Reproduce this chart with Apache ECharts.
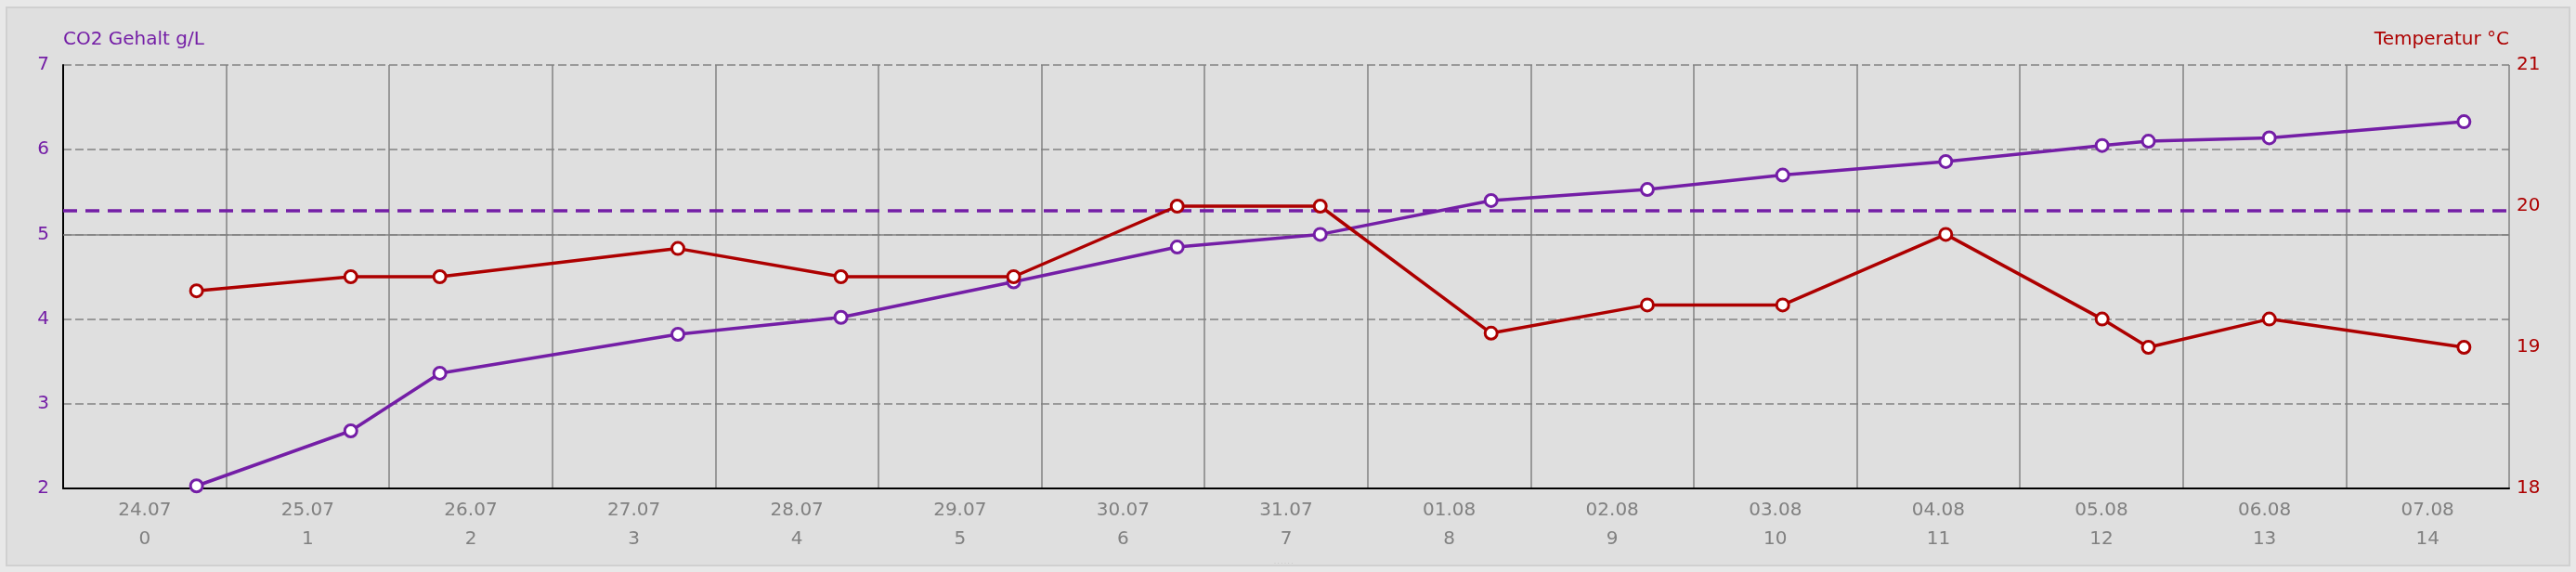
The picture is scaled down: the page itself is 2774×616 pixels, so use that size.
<!DOCTYPE html>
<html>
<head>
<meta charset="utf-8">
<script src="https://cdn.jsdelivr.net/npm/echarts@6/dist/echarts.min.js"></script>
<style>
  html, body { margin: 0; padding: 0; background: #e8e8e8; }
  #panel { position: absolute; left: 6px; top: 7px; width: 2758px; height: 599px; background: #dfdfdf; border: 2px solid #d0d0d0; }
  #chart { position: absolute; left: 0; top: 0; width: 2774px; height: 616px; }
</style>
</head>
<body>
<div id="panel"></div>
<div id="chart"></div>
<script>
// Category labels (days)
const dates = ['24.07','25.07','26.07','27.07','28.07','29.07','30.07','31.07','01.08','02.08','03.08','04.08','05.08','06.08','07.08'];
const dayIndex = [0,1,2,3,4,5,6,7,8,9,10,11,12,13,14];
// Measurement times (in days since 24.07 00:00)
const times = [0.818, 1.764, 2.310, 3.770, 4.770, 5.829, 6.832, 7.709, 8.757, 9.715, 10.545, 11.545, 12.504, 12.788, 13.529, 14.723];
// CO2 content g/L
const co2 = [2.03, 2.68, 3.36, 3.82, 4.02, 4.44, 4.85, 5.00, 5.40, 5.53, 5.70, 5.86, 6.05, 6.10, 6.14, 6.33];
// Temperature °C
const temp = [19.4, 19.5, 19.5, 19.7, 19.5, 19.5, 20.0, 20.0, 19.1, 19.3, 19.3, 19.8, 19.2, 19.0, 19.2, 19.0];
// Reference lines
const co2Limit = 5.28;
const solidRef = 5;

const PURPLE = '#741ea6';
const RED = '#ad0000';
const GRID = '#828282';
const FONT = 'DejaVu Sans';

const catLabels = dates.map((d, i) => d + '\n' + dayIndex[i]);

const chart = echarts.init(document.getElementById('chart'), null, { renderer: 'canvas' });
chart.setOption({
  backgroundColor: 'transparent',
  animation: false,
  grid: { left: 68, right: 72, top: 70, bottom: 90, containLabel: false },
  xAxis: [
    {
      type: 'category',
      data: catLabels,
      boundaryGap: true,
      axisLine: { show: true, lineStyle: { color: '#000', width: 2 } },
      axisTick: { show: false },
      axisLabel: { color: '#808080', fontSize: 20, fontFamily: FONT, lineHeight: 31, margin: 8, interval: 0 },
      splitLine: { show: true, lineStyle: { color: GRID, width: 1.5, type: 'solid' } }
    },
    {
      type: 'value',
      min: 0, max: 15, interval: 1,
      show: false
    }
  ],
  yAxis: [
    {
      type: 'value',
      min: 2, max: 7, interval: 1,
      name: 'CO2 Gehalt g/L',
      nameLocation: 'end',
      nameGap: 17,
      nameTextStyle: { color: PURPLE, fontSize: 20, fontFamily: FONT, align: 'left' },
      axisLine: { show: true, lineStyle: { color: '#000', width: 2 } },
      axisTick: { show: false },
      axisLabel: { color: PURPLE, fontSize: 20, fontFamily: FONT, margin: 15 },
      splitLine: { show: true, lineStyle: { color: GRID, width: 1.5, type: [9, 4] } }
    },
    {
      type: 'value',
      min: 18, max: 21, interval: 1,
      position: 'right',
      name: 'Temperatur °C',
      nameLocation: 'end',
      nameGap: 17,
      nameTextStyle: { color: RED, fontSize: 20, fontFamily: FONT, align: 'right' },
      axisLine: { show: false },
      axisTick: { show: false },
      axisLabel: { color: RED, fontSize: 20, fontFamily: FONT, margin: 8 },
      splitLine: { show: false }
    }
  ],
  series: [
    {
      name: 'CO2',
      type: 'line',
      xAxisIndex: 1,
      yAxisIndex: 0,
      data: times.map((t, i) => [t, co2[i]]),
      symbol: 'circle',
      symbolSize: 13,
      lineStyle: { color: PURPLE, width: 3.5 },
      itemStyle: { color: '#fff', borderColor: PURPLE, borderWidth: 3 },
      z: 3,
      markLine: {
        silent: true,
        symbol: 'none',
        label: { show: false },
        z: 2,
        data: [
          { yAxis: solidRef, lineStyle: { color: GRID, width: 1.5, type: 'solid' } },
          { yAxis: co2Limit, lineStyle: { color: PURPLE, width: 3.5, type: [15, 9] } }
        ]
      }
    },
    {
      name: 'Temperatur',
      type: 'line',
      xAxisIndex: 1,
      yAxisIndex: 1,
      data: times.map((t, i) => [t, temp[i]]),
      symbol: 'circle',
      symbolSize: 13,
      lineStyle: { color: RED, width: 3.5 },
      itemStyle: { color: '#fff', borderColor: RED, borderWidth: 3 },
      z: 4
    }
  ],
  graphic: [
    { type: 'text', left: 1372, top: 603, style: { text: '· · · · · ·', fill: '#9a9a9a', font: '6px sans-serif' } }
  ]
});
</script>
</body>
</html>
